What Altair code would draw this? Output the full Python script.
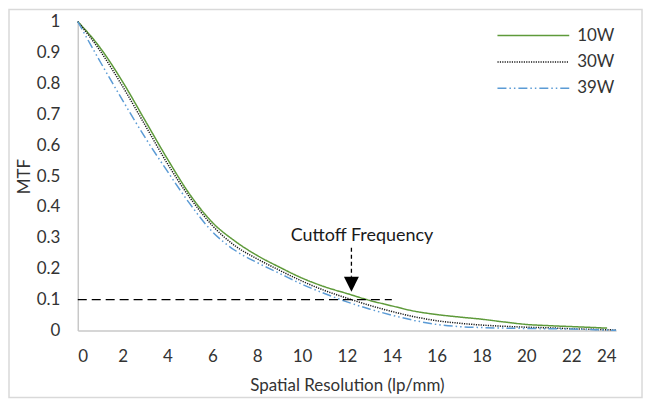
import altair as alt
import pandas as pd

series_names = ["10W", "30W", "39W"]
series_colors = ["#5E9A3A", "#1a1a1a", "#5B9BD5"]

x_10w = [0, 1, 2, 3, 4, 5, 6, 7, 8, 9, 10, 11, 12, 13, 14, 15, 16, 17, 18, 19, 20, 21, 22, 23, 23.6]
y_10w = [1.0, 0.915, 0.805, 0.68, 0.555, 0.44, 0.35, 0.29, 0.243, 0.205, 0.17, 0.142, 0.12, 0.098,
         0.08, 0.063, 0.052, 0.044, 0.037, 0.028, 0.02, 0.016, 0.013, 0.01, 0.008]

x_30w = [0, 1, 2, 3, 4, 5, 6, 7, 8, 9, 10, 11, 12, 13, 14, 15, 16, 17, 18, 19, 20, 21, 22, 23, 24]
y_30w = [1.0, 0.905, 0.79, 0.665, 0.54, 0.43, 0.34, 0.275, 0.232, 0.195, 0.16, 0.13, 0.105, 0.082,
         0.062, 0.045, 0.032, 0.024, 0.018, 0.014, 0.011, 0.009, 0.006, 0.004, 0.002]

x_39w = [0, 1, 2, 3, 4, 5, 6, 7, 8, 9, 10, 11, 12, 13, 14, 15, 16, 17, 18, 19, 20, 21, 22, 23, 24]
y_39w = [1.0, 0.87, 0.745, 0.625, 0.515, 0.41, 0.32, 0.26, 0.22, 0.185, 0.15, 0.12, 0.093, 0.07,
         0.05, 0.033, 0.02, 0.013, 0.01, 0.008, 0.007, 0.006, 0.005, 0.003, 0.001]

x_ticks = [0, 2, 4, 6, 8, 10, 12, 14, 16, 18, 20, 22, 24]
y_ticks = [0, 0.1, 0.2, 0.3, 0.4, 0.5, 0.6, 0.7, 0.8, 0.9, 1]

# annotation: cutoff line, arrow and label
cutoff_level = 0.1
cutoff_line_x = [0, 14]
arrow_x = 12.2
arrow_shaft_y = [0.268, 0.174]
arrow_head_y = 0.15
label_text = "Cuttoff Frequency"
label_x = 12.67
label_y = 0.306

FONT = "Lato"
TXT = "#333333"
FS = 17

rows = []
for name, xs, ys in [("10W", x_10w, y_10w), ("30W", x_30w, y_30w), ("39W", x_39w, y_39w)]:
    for xv, yv in zip(xs, ys):
        rows.append({"x": xv, "y": yv, "series": name})
df = pd.DataFrame(rows)

xscale = alt.Scale(domain=[0, 24], nice=False, zero=False)
yscale = alt.Scale(domain=[0, 1], nice=False)

# wide horizontal legend sample drawn as a custom path (3x the symbol's nominal size)
legend_kw = dict(title=None, orient="none", legendX=444, legendY=1,
                 symbolType="M-3,0H3", symbolSize=576, symbolStrokeWidth=1.5,
                 symbolFillColor="transparent",
                 labelFont=FONT, labelFontSize=FS, labelColor=TXT,
                 rowPadding=5.5, labelOffset=31)

xaxis = alt.Axis(values=x_ticks, grid=False, ticks=False, domainColor="#c8c8c8",
                 domainWidth=1.5, labelFontSize=FS, labelPadding=18, labelFont=FONT,
                 labelColor=TXT, labelOverlap=False, titleFont=FONT, titleFontSize=FS,
                 titleFontWeight="normal", titleColor=TXT, titlePadding=13)
yaxis = alt.Axis(values=y_ticks, format="~g", grid=False, ticks=False, domainColor="#c8c8c8",
                 domainWidth=1.5, labelFontSize=FS, labelPadding=18, labelFont=FONT,
                 labelColor=TXT, labelOverlap=False, titleFont=FONT, titleFontSize=FS,
                 titleFontWeight="normal", titleColor=TXT, titlePadding=3)

lines = alt.Chart(df).mark_line(interpolate="monotone", strokeWidth=1.5).encode(
    x=alt.X("x:Q", scale=xscale, title="Spatial Resolution (lp/mm)", axis=xaxis),
    y=alt.Y("y:Q", scale=yscale, title="MTF", axis=yaxis),
    color=alt.Color("series:N", scale=alt.Scale(domain=series_names, range=series_colors),
                    legend=alt.Legend(**legend_kw)),
    strokeDash=alt.StrokeDash("series:N",
                              scale=alt.Scale(domain=series_names,
                                              range=[[1, 0], [1.2, 1.2], [9, 3, 1.5, 3, 1.5, 3]]),
                              legend=alt.Legend(**legend_kw)),
)

hline_df = pd.DataFrame({"x": [cutoff_line_x[0]], "x2": [cutoff_line_x[1]], "y": [cutoff_level]})
hline = alt.Chart(hline_df).mark_rule(color="black", strokeWidth=1.3, strokeDash=[9, 5]).encode(
    x=alt.X("x:Q", scale=xscale, title="Spatial Resolution (lp/mm)", axis=xaxis), x2="x2:Q",
    y=alt.Y("y:Q", scale=yscale, title="MTF", axis=yaxis)
)

shaft_df = pd.DataFrame({"x": [arrow_x], "y": [arrow_shaft_y[0]], "y2": [arrow_shaft_y[1]]})
shaft = alt.Chart(shaft_df).mark_rule(color="black", strokeWidth=1.3, strokeDash=[4, 3]).encode(
    x=alt.X("x:Q", scale=xscale, title="Spatial Resolution (lp/mm)", axis=xaxis),
    y=alt.Y("y:Q", scale=yscale, title="MTF", axis=yaxis), y2="y2:Q"
)

head_df = pd.DataFrame({"x": [arrow_x], "y": [arrow_head_y]})
head = alt.Chart(head_df).mark_point(shape="M-1,-1L1,-1L0,1Z", size=225, filled=True,
                                     color="black", opacity=1, strokeWidth=0).encode(
    x=alt.X("x:Q", scale=xscale, title="Spatial Resolution (lp/mm)", axis=xaxis),
    y=alt.Y("y:Q", scale=yscale, title="MTF", axis=yaxis)
)

label_df = pd.DataFrame({"x": [label_x], "y": [label_y], "t": [label_text]})
label = alt.Chart(label_df).mark_text(font=FONT, fontSize=18, color="#1a1a1a", align="center",
                                      baseline="middle").encode(
    x=alt.X("x:Q", scale=xscale, title="Spatial Resolution (lp/mm)", axis=xaxis),
    y=alt.Y("y:Q", scale=yscale, title="MTF", axis=yaxis), text="t:N"
)

frame = alt.Chart(head_df).mark_rect(fill=None, stroke="#d9d9d9", strokeWidth=1.5, clip=False).encode(
    x=alt.value(-69), x2=alt.value(566), y=alt.value(-12), y2=alt.value(377)
)

chart = alt.layer(lines, hline, shaft, head, label, frame).properties(
    width=540, height=310,
    autosize=alt.AutoSizeParams(type="none"),
    padding={"left": 70, "top": 13, "right": 30, "bottom": 70},
    background="white",
).configure_view(stroke=None)

chart.save("out.html", embed_options={"renderer": "svg", "actions": False})
